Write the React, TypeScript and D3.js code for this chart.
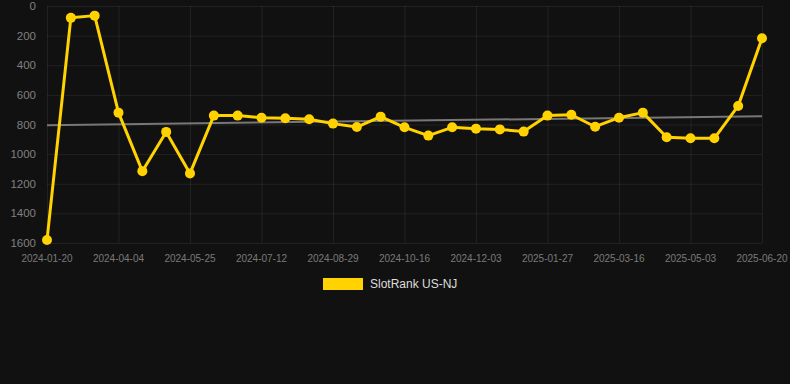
import * as d3 from "d3";
import { useEffect, useRef } from "react";

const dates = [
  "2024-01-20", "2024-02-14", "2024-03-10", "2024-04-04", "2024-04-21", "2024-05-08",
  "2024-05-25", "2024-06-13", "2024-06-25", "2024-07-12", "2024-07-28", "2024-08-13",
  "2024-08-29", "2024-09-14", "2024-09-30", "2024-10-16", "2024-11-01", "2024-11-17",
  "2024-12-03", "2024-12-21", "2025-01-09", "2025-01-27", "2025-02-12", "2025-02-28",
  "2025-03-16", "2025-04-01", "2025-04-17", "2025-05-03", "2025-05-19", "2025-06-04",
  "2025-06-20",
];

const ranks = [
  1580, 80, 65, 720, 1115, 850, 1130, 740, 740, 754, 758, 765, 794, 817, 747, 819,
  875, 819, 828, 833, 848, 740, 734, 815, 754, 720, 886, 893, 893, 675, 218,
];

const yTicks = [0, 200, 400, 600, 800, 1000, 1200, 1400, 1600];
const seriesName = "SlotRank US-NJ";

const W = 790;
const H = 384;
const FONT = "Helvetica, Arial, sans-serif";

const App = () => {
  const ref = useRef<SVGSVGElement | null>(null);

  useEffect(() => {
    const svg = d3.select(ref.current);
    svg.selectAll("*").remove();

    const margin = { top: 6, bottom: 141, left: 47, right: 28 };
    const x = d3.scalePoint<string>()
      .domain(dates)
      .range([margin.left, W - margin.right]);
    const y = d3.scaleLinear()
      .domain([0, 1600])
      .range([margin.top, H - margin.bottom]);

    svg.append("rect").attr("width", W).attr("height", H).attr("fill", "#111111");

    // сетка
    const xTickDates = dates.filter((d, i) => i % 3 === 0);
    svg.append("g").selectAll("line")
      .data(yTicks)
      .enter()
      .append("line")
      .attr("x1", margin.left)
      .attr("x2", W - margin.right)
      .attr("y1", d => y(d) + 0.5)
      .attr("y2", d => y(d) + 0.5)
      .attr("stroke", "rgba(255,255,255,0.07)");
    svg.append("g").selectAll("line")
      .data(xTickDates)
      .enter()
      .append("line")
      .attr("x1", d => x(d)! + 0.5)
      .attr("x2", d => x(d)! + 0.5)
      .attr("y1", margin.top)
      .attr("y2", H - margin.bottom)
      .attr("stroke", "rgba(255,255,255,0.07)");

    // подписи осей
    svg.append("g").selectAll("text")
      .data(yTicks)
      .enter()
      .append("text")
      .attr("x", 36)
      .attr("y", d => y(d))
      .attr("dy", "0.35em")
      .attr("text-anchor", "end")
      .attr("font-family", FONT)
      .attr("font-size", 11.5)
      .attr("fill", "#808080")
      .text(d => d);
    svg.append("g").selectAll("text")
      .data(xTickDates)
      .enter()
      .append("text")
      .attr("x", d => x(d)!)
      .attr("y", 262)
      .attr("text-anchor", "middle")
      .attr("font-family", FONT)
      .attr("font-size", 10)
      .attr("fill", "#7a7a7a")
      .text(d => d);

    // линия тренда (регрессия)
    const n = ranks.length;
    const mx = d3.mean(d3.range(n))!;
    const my = d3.mean(ranks)!;
    let num = 0;
    let den = 0;
    ranks.forEach((v, i) => {
      num += (i - mx) * (v - my);
      den += (i - mx) * (i - mx);
    });
    const slope = num / den;
    const icpt = my - slope * mx;
    svg.append("line")
      .attr("x1", x(dates[0])!)
      .attr("x2", x(dates[n - 1])!)
      .attr("y1", y(icpt))
      .attr("y2", y(icpt + slope * (n - 1)))
      .attr("stroke", "#777777")
      .attr("stroke-width", 2);

    // основная линия
    const line = d3.line<number>()
      .x((d, i) => x(dates[i])!)
      .y(d => y(d));
    svg.append("path")
      .datum(ranks)
      .attr("d", line)
      .attr("fill", "none")
      .attr("stroke", "#ffd200")
      .attr("stroke-width", 3)
      .attr("stroke-linejoin", "round");
    svg.append("g").selectAll("circle")
      .data(ranks)
      .enter()
      .append("circle")
      .attr("cx", (d, i) => x(dates[i])!)
      .attr("cy", d => y(d))
      .attr("r", 5)
      .attr("fill", "#ffd200");

    // легенда
    svg.append("rect")
      .attr("x", 323)
      .attr("y", 278)
      .attr("width", 40)
      .attr("height", 12)
      .attr("fill", "#ffd200");
    svg.append("text")
      .attr("x", 370)
      .attr("y", 284)
      .attr("dy", "0.35em")
      .attr("font-family", FONT)
      .attr("font-size", 12)
      .attr("fill", "#dddddd")
      .text(seriesName);
  }, []);

  return (
    <svg
      ref={ref}
      width={W}
      height={H}
      style={{ position: "absolute", left: 0, top: 0, display: "block" }}
    ></svg>
  );
};

export default App;
